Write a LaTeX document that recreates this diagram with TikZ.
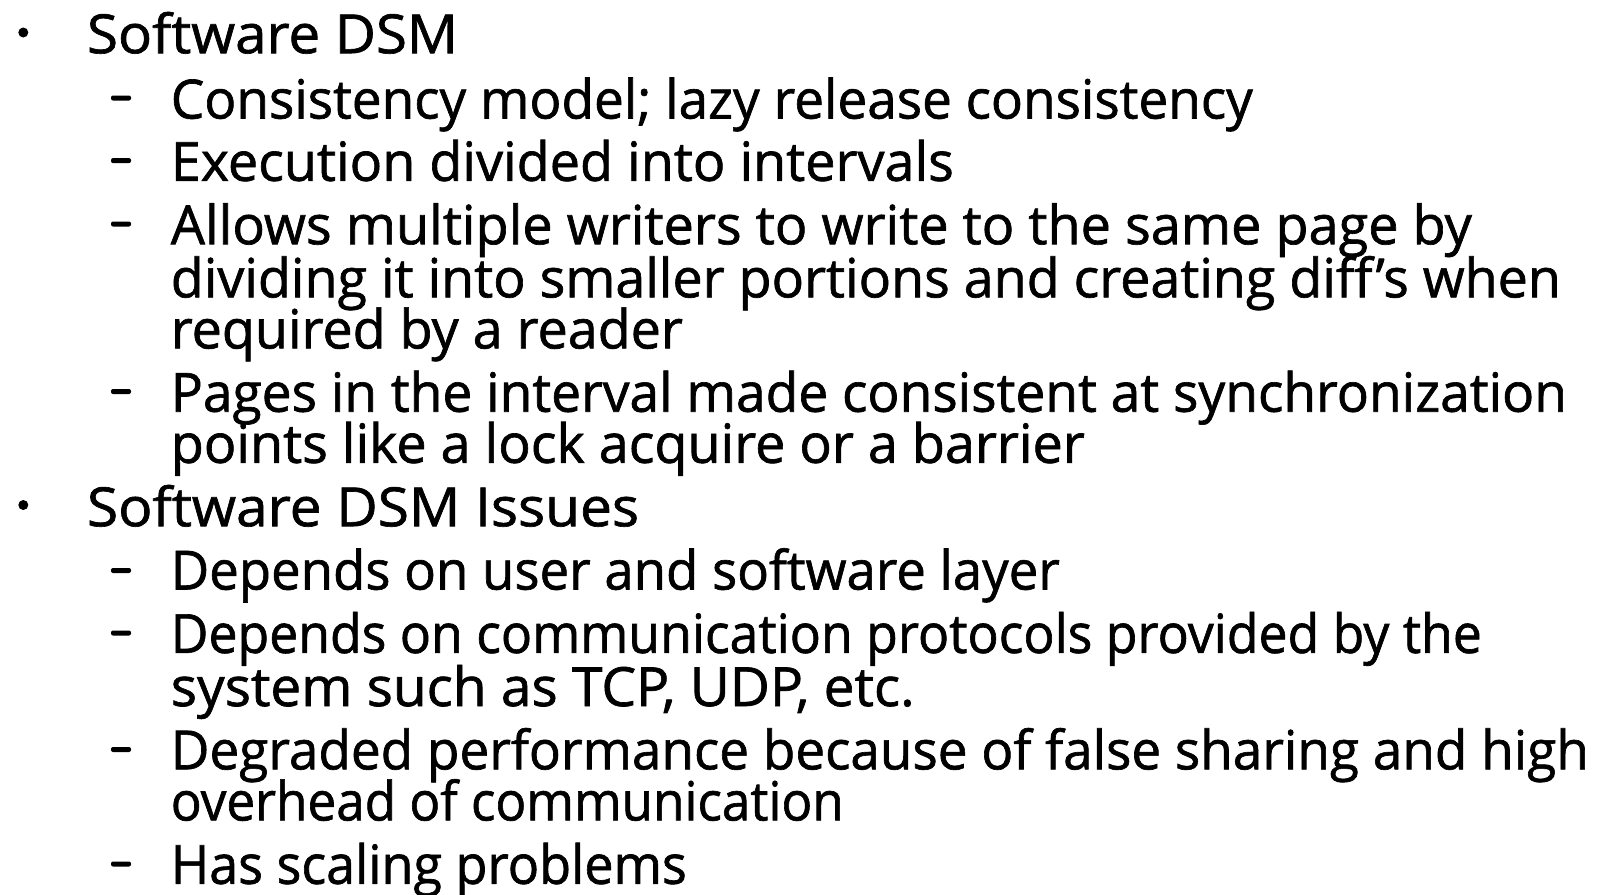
\documentclass[tikz,border=0pt]{standalone}
\usepackage{fontspec}
\setmainfont[FakeBold=1.2]{Open Sans}
\usepackage{graphicx}
% squeeze or stretch a line to a given width, keeping its height
\newcommand\fitline[2]{\resizebox{#1pt}{\height}{#2}}
\tikzset{
  txt/.style={anchor=base west, inner sep=0pt, font=\fontsize{54}{60}\selectfont},
  bul/.style={circle, fill=black, inner sep=0pt, minimum size=10pt},
  dsh/.style={rectangle, rounded corners=2pt, fill=black, inner sep=0pt, minimum width=20pt, minimum height=5pt},
}
\begin{document}
\begin{tikzpicture}[x=1pt,y=-1pt]
\useasboundingbox (0,0) rectangle (1602,894);

% first bullet and its points
\node[bul] (b1) at (23.3,32.5) {};
\node[txt] (l1) at (86.8,53.2) {\fitline{371}{Software DSM}};
\node[dsh] (d1) at (121,98) {};
\node[txt] (l2) at (170.6,118.5) {\fitline{1082}{Consistency model; lazy release consistency}};
\node[dsh] (d2) at (121,160.6) {};
\node[txt] (l3) at (170.6,180.8) {\fitline{783}{Execution divided into intervals}};
\node[dsh] (d3) at (121,224) {};
\node[txt] (l4) at (170.6,244.2) {\fitline{1301}{Allows multiple writers to write to the same page by}};
\node[txt] (l5) at (170.6,297.3) {\fitline{1390}{dividing it into smaller portions and creating diff’s when}};
\node[txt] (l6) at (170.6,348.4) {\fitline{512}{required by a reader}};
\node[dsh] (d4) at (121,391.5) {};
\node[txt] (l7) at (170.6,411.7) {\fitline{1396}{Pages in the interval made consistent at synchronization}};
\node[txt] (l8) at (170.6,462.8) {\fitline{914}{points like a lock acquire or a barrier}};

% second bullet and its points
\node[bul] (b2) at (23.3,505) {};
\node[txt] (l9) at (86.8,526.2) {\fitline{552}{Software DSM Issues}};
\node[dsh] (d5) at (121,570.5) {};
\node[txt] (l10) at (170.6,589.5) {\fitline{889}{Depends on user and software layer}};
\node[dsh] (d6) at (121,633) {};
\node[txt] (l11) at (170.6,652.9) {\fitline{1311}{Depends on communication protocols provided by the}};
\node[txt] (l12) at (170.6,706.0) {\fitline{744}{system such as TCP, UDP, etc.}};
\node[dsh] (d7) at (121,749.5) {};
\node[txt] (l13) at (170.6,769.3) {\fitline{1418}{Degraded performance because of false sharing and high}};
\node[txt] (l14) at (170.6,820.4) {\fitline{673}{overhead of communication}};
\node[dsh] (d8) at (121,864) {};
\node[txt] (l15) at (170.6,883.8) {\fitline{516}{Has scaling problems}};
\end{tikzpicture}
\end{document}
